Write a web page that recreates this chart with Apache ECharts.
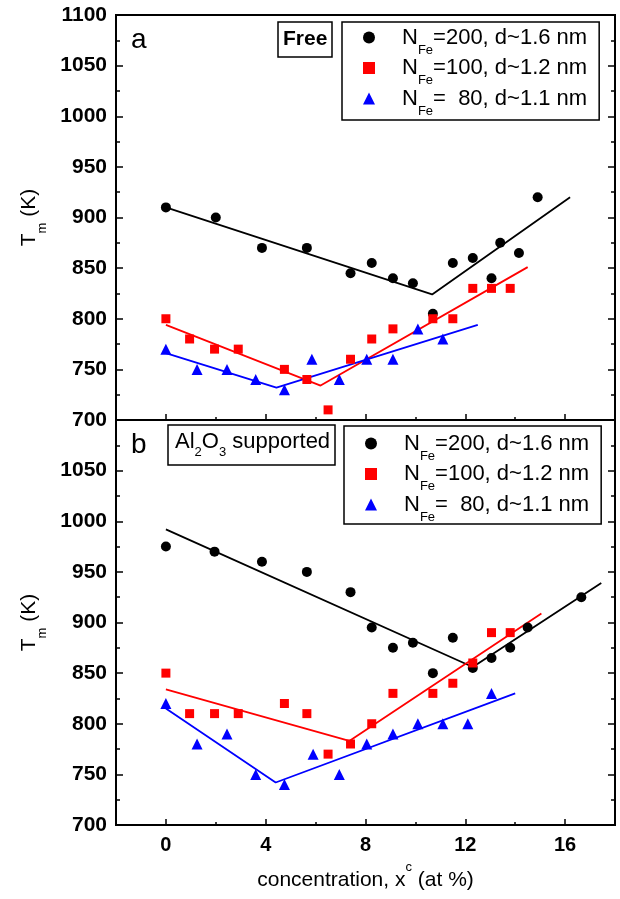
<!DOCTYPE html>
<html>
<head>
<meta charset="utf-8">
<script src="https://cdn.jsdelivr.net/npm/echarts@6/dist/echarts.min.js"></script>
<style>
    html, body { margin: 0; padding: 0; background: #fff; }
    #chart { width: 620px; height: 899px; }
</style>
</head>
<body>
<div id="chart"></div>
<script>
// panel a - free clusters
const aBlackX = [0, 2, 3.85, 5.65, 7.4, 8.25, 9.1, 9.9, 10.7, 11.5, 12.3, 13.05, 13.4, 14.15, 14.9];
const aBlackY = [910, 900, 870, 870, 845, 855, 840, 835, 805, 855, 860, 840, 875, 865, 920];
const aRedX = [0, 0.95, 1.95, 2.9, 4.75, 5.65, 6.5, 7.4, 8.25, 9.1, 10.7, 11.5, 12.3, 13.05, 13.8];
const aRedY = [800, 780, 770, 770, 750, 740, 710, 760, 780, 790, 800, 800, 830, 830, 830];
const aBlueX = [0, 1.25, 2.45, 3.6, 4.75, 5.85, 6.95, 8.05, 9.1, 10.1, 11.1];
const aBlueY = [770, 750, 750, 740, 730, 760, 740, 760, 760, 790, 780];
const aBlackFit = [[0, 910], [10.67, 824], [16.2, 920]];
const aRedFit = [[0, 794], [6.2, 734], [14.5, 851]];
const aBlueFit = [[0, 766], [4.43, 732], [12.5, 794]];

// panel b - Al2O3 supported
const bBlackX = [0, 1.95, 3.85, 5.65, 7.4, 8.25, 9.1, 9.9, 10.7, 11.5, 12.3, 13.05, 13.8, 14.5, 16.65];
const bBlackY = [975, 970, 960, 950, 930, 895, 875, 880, 850, 885, 855, 865, 875, 895, 925];
const bRedX = [0, 0.95, 1.95, 2.9, 4.75, 5.65, 6.5, 7.4, 8.25, 9.1, 10.7, 11.5, 12.3, 13.05, 13.8];
const bRedY = [850, 810, 810, 810, 820, 810, 770, 780, 800, 830, 830, 840, 860, 890, 890];
const bBlueX = [0, 1.25, 2.45, 3.6, 4.75, 5.9, 6.95, 8.05, 9.1, 10.1, 11.1, 12.1, 13.05];
const bBlueY = [820, 780, 790, 750, 740, 770, 750, 780, 790, 800, 800, 800, 830];
const bBlackFit = [[0, 992], [12.3, 856], [17.45, 939]];
const bRedFit = [[0, 834], [7.35, 783], [15.05, 909]];
const bBlueFit = [[0, 815], [4.4, 742], [14.0, 830]];

const seriesNames = ['N200', 'N100', 'N80'];
const legendRest = ['=200, d~1.6 nm', '=100, d~1.2 nm', '=  80, d~1.1 nm'];
const xMajor = [0, 4, 8, 12, 16];
const xMinor = [2, 6, 10, 14];

const font = 'Arial, "Liberation Sans", sans-serif';
const colors = ['#000000', '#ff0000', '#0000ff'];
const symbols = ['circle', 'rect', 'triangle'];
const sizes = [10, 9, 11];

const chartDom = document.querySelector('#chart');

function pts(xs, ys) {
    return xs.map((x, i) => [x, ys[i]]);
}

const rich = {
    t: {fontSize: 21, fontWeight: 'normal', fontFamily: font, height: 30, lineHeight: 30, color: '#000'},
    tb: {fontSize: 21, fontWeight: 'bold', fontFamily: font, height: 30, lineHeight: 30, color: '#000'},
    T: {fontSize: 22, fontWeight: 'normal', fontFamily: font, height: 30, lineHeight: 30, color: '#000'},
    L: {fontSize: 22, fontWeight: 'normal', fontFamily: font, height: 26, lineHeight: 26, color: '#000'},
    s: {fontSize: 13, fontWeight: 'normal', fontFamily: font, height: 4, lineHeight: 4, verticalAlign: 'bottom', color: '#000'},
    sL: {fontSize: 13, fontWeight: 'normal', fontFamily: font, height: 1, lineHeight: 1, verticalAlign: 'bottom', color: '#000'},
    s2: {fontSize: 13, fontWeight: 'normal', fontFamily: font, height: 9, lineHeight: 9, verticalAlign: 'bottom', color: '#000'},
    p: {fontSize: 13, fontWeight: 'normal', fontFamily: font, height: 5, lineHeight: 5, verticalAlign: 'top', color: '#000'},
    sp: {width: 22, fontSize: 21, height: 26, lineHeight: 26}
};

function xAxes(grid, labels) {
    return [
        {
            type: 'value', gridIndex: grid, position: 'bottom', min: -2, max: 18,
            axisLine: {show: true, onZero: false, lineStyle: {color: '#000', width: 2}},
            axisTick: {show: true, inside: true, length: 6, customValues: xMajor, lineStyle: {color: '#000', width: 1.5}},
            axisLabel: {show: labels, customValues: xMajor, margin: 10, fontSize: 20, fontWeight: 'bold', fontFamily: font, color: '#000'},
            splitLine: {show: false},
            name: labels ? '{t|concentration, x}{p|c}{t| (at %)}' : '',
            nameLocation: 'middle',
            nameGap: 40,
            nameTextStyle: {rich: rich}
        },
        {
            type: 'value', gridIndex: grid, position: 'bottom', min: -2, max: 18,
            axisLine: {show: false, onZero: false},
            axisTick: {show: true, inside: true, length: 3, customValues: xMinor, lineStyle: {color: '#000', width: 1.5}},
            axisLabel: {show: false},
            splitLine: {show: false}
        }
    ];
}

function yAxes(grid, topLabel) {
    const base = {
        type: 'value', gridIndex: grid, min: 700, max: 1100, interval: 50,
        axisLine: {show: true, onZero: false, lineStyle: {color: '#000', width: 2}},
        axisTick: {show: true, inside: true, length: 7, lineStyle: {color: '#000', width: 1.5}},
        minorTick: {show: true, splitNumber: 2, length: 4, lineStyle: {color: '#000', width: 1.5}},
        splitLine: {show: false}
    };
    return [
        Object.assign({}, base, {
            position: 'left',
            axisLabel: {
                show: true, showMaxLabel: topLabel, margin: 9, fontSize: 21, fontWeight: 'bold', fontFamily: font, color: '#000',
                formatter: v => String(v)
            },
            name: '{t|T}{s|m}{t| (K)}',
            nameLocation: 'middle',
            nameRotate: 90,
            nameGap: 72,
            nameMoveOverlap: false,
            nameTextStyle: {rich: rich}
        }),
        Object.assign({}, base, {position: 'right', axisLabel: {show: false}})
    ];
}

function panelSeries(xIdx, yIdx, scatters, fits) {
    let list = [];
    fits.forEach((fit, i) => {
        list.push({
            name: 'fit' + i, type: 'line', xAxisIndex: xIdx, yAxisIndex: yIdx,
            data: fit, showSymbol: false, symbol: 'none', z: 2,
            lineStyle: {color: colors[i], width: 1.8}
        });
    });
    scatters.forEach((d, i) => {
        list.push({
            name: seriesNames[i], type: 'scatter', xAxisIndex: xIdx, yAxisIndex: yIdx,
            data: d, symbol: symbols[i], symbolSize: sizes[i], z: 3,
            itemStyle: {color: colors[i], opacity: 1}
        });
    });
    return list;
}

function legendBox(left, top, padding) {
    return {
        left: left, top: top, orient: 'vertical',
        data: seriesNames,
        selectedMode: false,
        itemWidth: 12, itemHeight: 12, itemGap: -1.5,
        padding: padding,
        borderColor: '#000', borderWidth: 1.5,
        formatter: function (name) {
            const i = seriesNames.indexOf(name);
            return '{sp| }{L|N}{sL|Fe}{L|' + legendRest[i] + '}';
        },
        textStyle: {rich: rich}
    };
}

function boxTitle(text, left, top, padding) {
    return {
        text: text, left: left, top: top, padding: padding,
        borderColor: '#000', borderWidth: 1.5,
        textStyle: {rich: rich}
    };
}

let option = {
    animation: false,
    backgroundColor: '#fff',
    grid: [
        {left: 116, top: 15, width: 499, height: 405, show: true, borderColor: '#000', borderWidth: 2, outerBoundsMode: 'none'},
        {left: 116, top: 420, width: 499, height: 405, show: true, borderColor: '#000', borderWidth: 2, outerBoundsMode: 'none'}
    ],
    title: [
        {text: 'a', left: 131, top: 26, padding: 0, textStyle: {fontSize: 28, fontWeight: 'normal', fontFamily: font, color: '#000'}},
        {text: 'b', left: 131, top: 431, padding: 0, textStyle: {fontSize: 28, fontWeight: 'normal', fontFamily: font, color: '#000'}},
        boxTitle('{tb|Free}', 278, 22, [2, 5, 3, 5]),
        boxTitle('{T|Al}{s2|2}{T|O}{s2|3}{T| supported}', 168, 425, [2, 5, 6, 7])
    ],
    legend: [
        legendBox(342, 22, [2.5, 12, 2.5, 21]),
        legendBox(344, 426, [4.5, 12, 0.5, 21])
    ],
    xAxis: xAxes(0, false).concat(xAxes(1, true)),
    yAxis: yAxes(0, true).concat(yAxes(1, false)),
    series: panelSeries(0, 0,
        [pts(aBlackX, aBlackY), pts(aRedX, aRedY), pts(aBlueX, aBlueY)],
        [aBlackFit, aRedFit, aBlueFit]
    ).concat(panelSeries(2, 2,
        [pts(bBlackX, bBlackY), pts(bRedX, bRedY), pts(bBlueX, bBlueY)],
        [bBlackFit, bRedFit, bBlueFit]
    ))
};

let myChart = echarts.init(chartDom);
myChart.setOption(option);
</script>
</body>
</html>
